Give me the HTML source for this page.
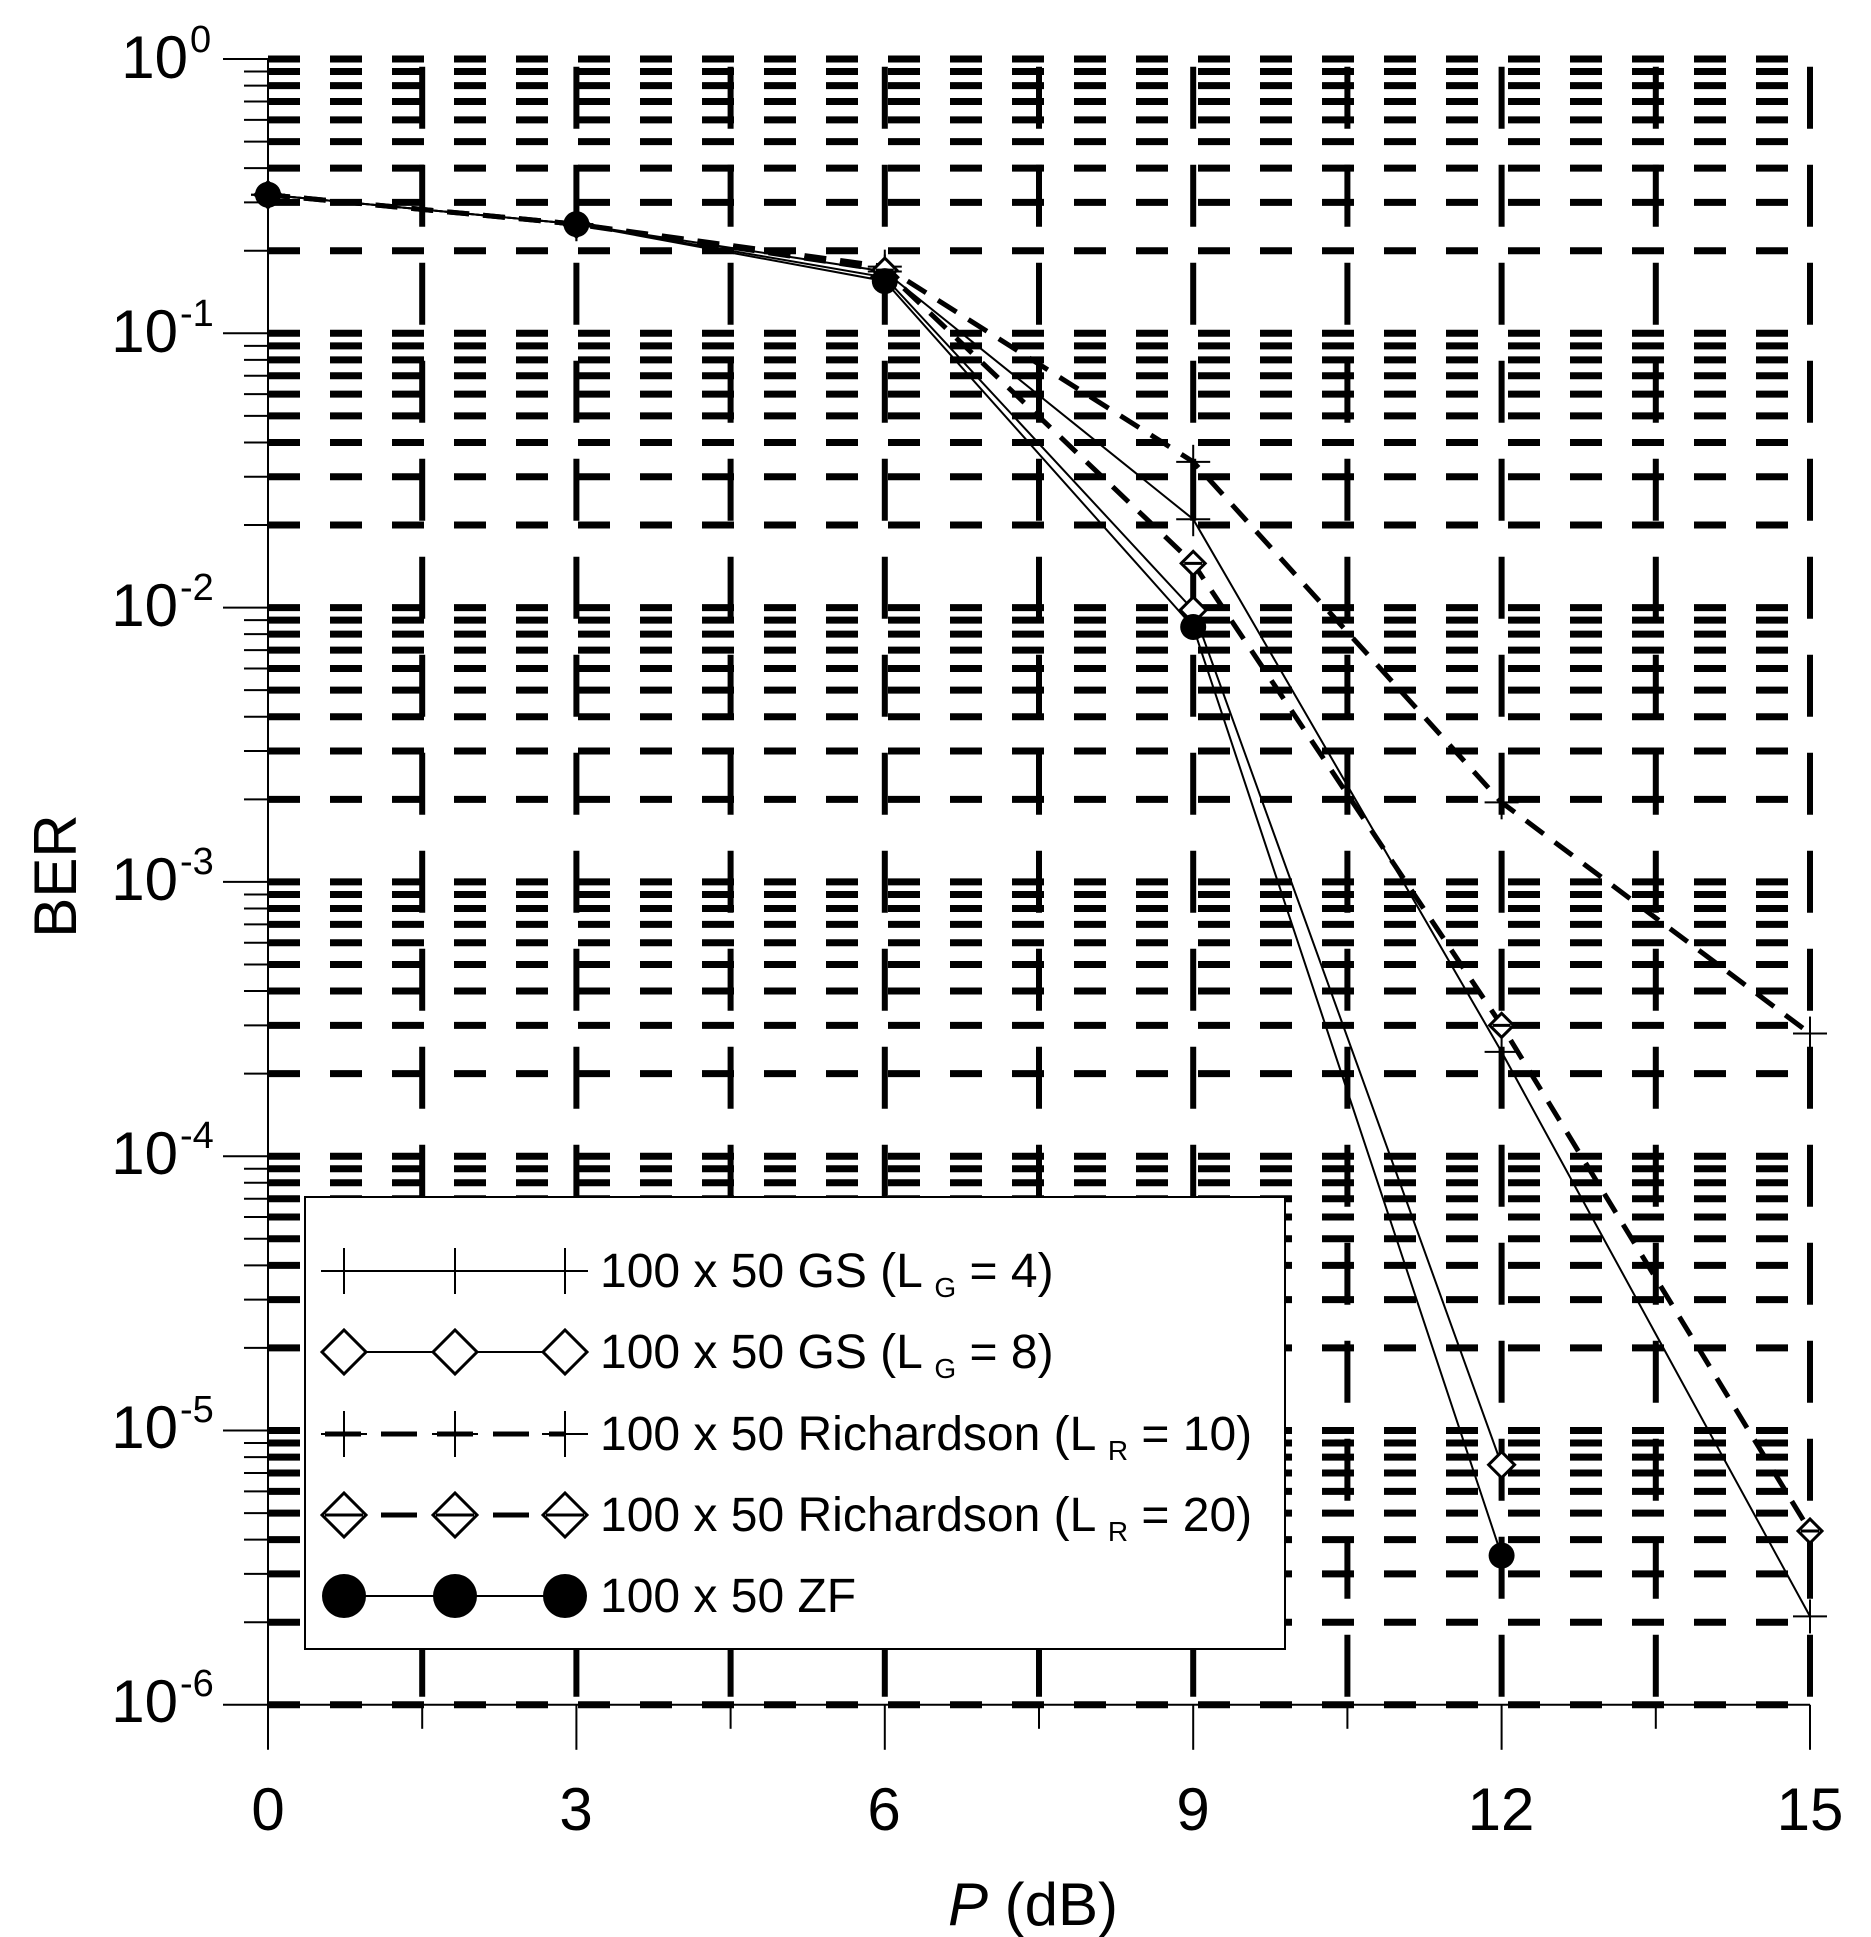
<!DOCTYPE html>
<html><head><meta charset="utf-8"><style>
html,body{margin:0;padding:0;background:#fff}
svg{display:block}
text{font-family:"Liberation Sans",Arial,sans-serif;fill:#000}
</style></head><body>
<svg id="s" width="1871" height="1937" viewBox="0 0 1871 1937" xmlns="http://www.w3.org/2000/svg">
<g id="grid"></g>
<g id="axes" stroke="#000" stroke-width="2" fill="none"></g>
<g id="series"></g>
<g font-size="60">
<text x="188" y="78" text-anchor="end">10</text><text x="190" y="52" font-size="38">0</text>
<text x="178" y="352" text-anchor="end">10</text><text x="180" y="326" font-size="38">-1</text>
<text x="178" y="626" text-anchor="end">10</text><text x="180" y="600" font-size="38">-2</text>
<text x="178" y="900" text-anchor="end">10</text><text x="180" y="874" font-size="38">-3</text>
<text x="178" y="1174" text-anchor="end">10</text><text x="180" y="1148" font-size="38">-4</text>
<text x="178" y="1448" text-anchor="end">10</text><text x="180" y="1422" font-size="38">-5</text>
<text x="178" y="1722" text-anchor="end">10</text><text x="180" y="1696" font-size="38">-6</text>
</g>
<g font-size="60" text-anchor="middle">
<text x="268" y="1830">0</text>
<text x="576" y="1830">3</text>
<text x="884" y="1830">6</text>
<text x="1193" y="1830">9</text>
<text x="1501" y="1830">12</text>
<text x="1810" y="1830">15</text>
<text x="1033" y="1925"><tspan font-style="italic">P</tspan> (dB)</text>
<text transform="translate(76,876) rotate(-90)">BER</text>
</g>
<rect x="305" y="1197" width="980" height="452" fill="#fff" stroke="#000" stroke-width="2"/>
<g id="leg"></g>
<g font-size="48">
<text x="600" y="1287">100 x 50 GS (L <tspan font-size="28" dy="10">G</tspan><tspan dy="-10"> = 4)</tspan></text>
<text x="600" y="1368">100 x 50 GS (L <tspan font-size="28" dy="10">G</tspan><tspan dy="-10"> = 8)</tspan></text>
<text x="600" y="1450">100 x 50 Richardson (L <tspan font-size="28" dy="10">R</tspan><tspan dy="-10"> = 10)</tspan></text>
<text x="600" y="1531">100 x 50 Richardson (L <tspan font-size="28" dy="10">R</tspan><tspan dy="-10"> = 20)</tspan></text>
<text x="600" y="1612">100 x 50 ZF</text>
</g>
</svg>
<script>
var NS="http://www.w3.org/2000/svg";
function el(p,t,a){var e=document.createElementNS(NS,t);for(var k in a)e.setAttribute(k,a[k]);p.appendChild(e);return e;}
var X0=268,DX=308.4/3,Y0=59,DEC=274.3;
function X(v){return X0+v*DX;}
function Y(b){return Y0-Math.log10(b)*DEC;}
var g=document.getElementById('grid'),ax=document.getElementById('axes');
for(var d=0;d<6;d++)for(var m=1;m<=9;m++){var y=Y(m*Math.pow(10,-d-1));
 el(g,'line',{x1:X(0),x2:X(15)+3,y1:y,y2:y,stroke:'#000','stroke-width':7,'stroke-dasharray':'32 30'});}
var y0=Y(1);el(g,'line',{x1:X(0),x2:X(15)+3,y1:y0,y2:y0,stroke:'#000','stroke-width':7,'stroke-dasharray':'32 30'});
for(var i=1;i<=10;i++){var x=X(i*1.5);el(g,'line',{x1:x,x2:x,y1:Y(1e-6)-8,y2:Y(1),stroke:'#000','stroke-width':6,'stroke-dasharray':'62 36'});}
el(ax,'line',{x1:X(0),x2:X(0),y1:Y(1),y2:Y(1e-6)+45});
el(ax,'line',{x1:X(0),x2:X(15),y1:Y(1e-6),y2:Y(1e-6)});
for(var d=0;d<=6;d++){var y=Y(Math.pow(10,-d));el(ax,'line',{x1:X(0)-45,x2:X(0),y1:y,y2:y});
 if(d<6)for(var m=2;m<=9;m++){var yy=Y(m*Math.pow(10,-d-1));el(ax,'line',{x1:X(0)-24,x2:X(0),y1:yy,y2:yy});}}
for(var i=1;i<=10;i++){var x=X(i*1.5);el(ax,'line',{x1:x,x2:x,y1:Y(1e-6),y2:Y(1e-6)+(i%2?24:45)});}
var S=document.getElementById('series');
function plus(p,x,y,s){el(p,'line',{x1:x-s,x2:x+s,y1:y,y2:y,stroke:'#000','stroke-width':2});el(p,'line',{x1:x,x2:x,y1:y-s,y2:y+s,stroke:'#000','stroke-width':2});}
function dia(p,x,y,s,bar){el(p,'polygon',{points:(x-s)+','+y+' '+x+','+(y-s)+' '+(x+s)+','+y+' '+x+','+(y+s),fill:'#fff',stroke:'#000','stroke-width':3});if(bar)el(p,'line',{x1:x-s+3,x2:x+s-3,y1:y,y2:y,stroke:'#000','stroke-width':3});}
function dot(p,x,y,r){el(p,'circle',{cx:x,cy:y,r:r,fill:'#000'});}
var xs=[0,3,6,9,12,15];
var data=[
 {v:[0.32,0.25,0.168,0.021,2.4e-4,2.1e-6],dash:null,m:'+'},
 {v:[0.32,0.25,0.16,0.0098,7.5e-6],dash:null,m:'d'},
 {v:[0.32,0.25,0.175,0.034,1.95e-3,2.8e-4],dash:'22 14',m:'+'},
 {v:[0.32,0.25,0.17,0.0145,3e-4,4.3e-6],dash:'22 14',m:'db'},
 {v:[0.32,0.25,0.155,0.0085,3.5e-6],dash:null,m:'o'}];
data.forEach(function(s){var pts=s.v.map(function(v,i){return X(xs[i])+','+Y(v);}).join(' ');
 var a={points:pts,fill:'none',stroke:'#000','stroke-width':s.dash?5:2};if(s.dash)a['stroke-dasharray']=s.dash;el(S,'polyline',a);
 s.v.forEach(function(v,i){var x=X(xs[i]),y=Y(v);if(s.m=='+')plus(S,x,y,17);else if(s.m=='d')dia(S,x,y,13,false);else if(s.m=='db')dia(S,x,y,12,true);else dot(S,x,y,13);});});
var L=document.getElementById('leg'),ly=[1271,1352,1434,1515,1596],lx=[344,455,565];
data.forEach(function(s,k){var y=ly[k];var a={x1:325,x2:565,y1:y,y2:y,stroke:'#000','stroke-width':s.dash?5:2};if(s.dash)a['stroke-dasharray']='36 20';el(L,'line',a);
 lx.forEach(function(x){if(s.m=='+')plus(L,x,y,23);else if(s.m=='d')dia(L,x,y,22,false);else if(s.m=='db')dia(L,x,y,22,true);else dot(L,x,y,22);});});
</script>
</body></html>
